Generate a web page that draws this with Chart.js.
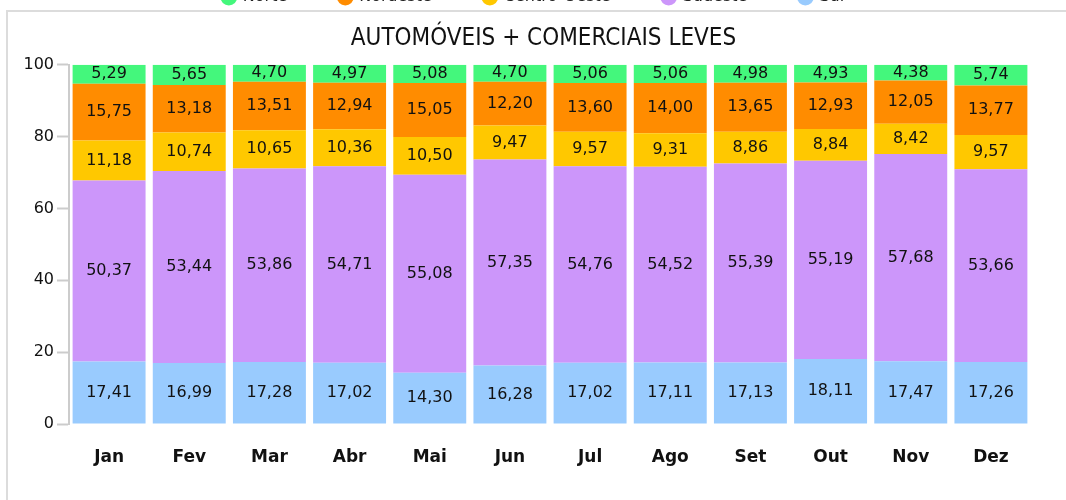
<!DOCTYPE html>
<html>
<head>
<meta charset="utf-8">
<script src="https://cdn.jsdelivr.net/npm/chart.js@4"></script>
<style>
  html, body { margin: 0; padding: 0; overflow: hidden; background: #fff; }
  #wrap { position: absolute; left: 0; top: -63px; width: 1066px; height: 563px; }
</style>
</head>
<body>
<div id="wrap"><canvas id="grafico"></canvas></div>
<script>
// ================= DATI =================

const meses = ["Jan", "Fev", "Mar", "Abr", "Mai", "Jun", "Jul", "Ago", "Set", "Out", "Nov", "Dez"];

const sul = [17.41, 16.99, 17.28, 17.02, 14.30, 16.28, 17.02, 17.11, 17.13, 18.11, 17.47, 17.26];
const sudeste = [50.37, 53.44, 53.86, 54.71, 55.08, 57.35, 54.76, 54.52, 55.39, 55.19, 57.68, 53.66];
const centroOeste = [11.18, 10.74, 10.65, 10.36, 10.50, 9.47, 9.57, 9.31, 8.86, 8.84, 8.42, 9.57];
const nordeste = [15.75, 13.18, 13.51, 12.94, 15.05, 12.20, 13.60, 14.00, 13.65, 12.93, 12.05, 13.77];
const norte = [5.29, 5.65, 4.70, 4.97, 5.08, 4.70, 5.06, 5.06, 4.98, 4.93, 4.38, 5.74];

const ticksY = [0, 20, 40, 60, 80, 100];

// ================= PLUGIN =================

// legenda più bassa (il padding orizzontale resta largo)
const legendaCompatta = {
    id: "legendaCompatta",
    beforeInit(chart) {
        const fit = chart.legend.fit;
        chart.legend.fit = function () {
            fit.bind(chart.legend)();
            this.height = 83;
        };
    },
    afterLayout(chart) {
        // titolo e legenda un po' più a destra
        chart.titleBlock.left += 56;
        chart.legend.left += 18;
        chart.legend.right += 18;
    }
};

// riquadro grigio attorno al grafico
const riquadro = {
    id: "riquadro",
    beforeDraw(chart) {
        const ctx = chart.ctx;
        ctx.save();
        ctx.strokeStyle = "#dcdcdc";
        ctx.lineWidth = 2;
        ctx.strokeRect(7, 74, 1200, 700);
        ctx.restore();
    }
};

// valori dentro ogni segmento
const etichette = {
    id: "etichette",
    afterDatasetsDraw(chart) {
        const ctx = chart.ctx;
        ctx.save();
        ctx.font = "16px 'DejaVu Sans'";
        ctx.fillStyle = "#111";
        ctx.textAlign = "center";
        ctx.textBaseline = "middle";
        chart.data.datasets.forEach((ds, i) => {
            chart.getDatasetMeta(i).data.forEach((bar, j) => {
                const y = (bar.y + bar.base) / 2;
                ctx.fillText(ds.data[j].toFixed(2).replace(".", ","), bar.x, y);
            });
        });
        ctx.restore();
    }
};

// ================= GRAFICO =================

const ctx = document.getElementById("grafico").getContext("2d");

new Chart(ctx, {

    type: "bar",

    data: {

        labels: meses,

        datasets: [
            { label: "Sul", data: sul, backgroundColor: "#99cbfe" },
            { label: "Sudeste", data: sudeste, backgroundColor: "#cc96fa" },
            { label: "Centro-Oeste", data: centroOeste, backgroundColor: "#ffc800" },
            { label: "Nordeste", data: nordeste, backgroundColor: "#ff8c00" },
            { label: "Norte", data: norte, backgroundColor: "#44f77c" }
        ]

    },

    options: {

        responsive: true,
        maintainAspectRatio: false,
        animation: false,

        datasets: {
            bar: {
                categoryPercentage: 1,
                barPercentage: 0.91,
                borderWidth: 0
            }
        },

        layout: {
            padding: { left: 0, right: 35, top: 0, bottom: 0 }
        },

        plugins: {

            legend: {
                display: true,
                position: "top",
                weight: 3000,
                reverse: true,
                labels: {
                    usePointStyle: true,
                    pointStyle: "circle",
                    boxWidth: 12,
                    boxHeight: 12,
                    padding: 52,
                    color: "#222",
                    font: { family: "'DejaVu Sans'", size: 16 }
                }
            },

            title: {
                display: true,
                text: "AUTOMÓVEIS + COMERCIAIS LEVES",
                color: "#111",
                font: { family: "'DejaVu Sans Condensed', 'Liberation Sans Narrow', 'DejaVu Sans'", size: 24, weight: "normal" },
                padding: { top: 4, bottom: 12 }
            },

            tooltip: { enabled: false }

        },

        scales: {

            x: {
                stacked: true,
                grid: { display: false },
                border: { display: false },
                ticks: {
                    color: "#111",
                    padding: 15,
                    font: { family: "'DejaVu Sans'", size: 17, weight: "bold" }
                },
                afterFit(scale) { scale.height = 76; }
            },

            y: {
                stacked: true,
                min: 0,
                max: 100,
                afterBuildTicks(scale) {
                    scale.ticks = ticksY.map(v => ({ value: v }));
                },
                grid: {
                    drawOnChartArea: false,
                    tickLength: 12,
                    tickWidth: 2,
                    color: "#cccccc"
                },
                border: { display: true, color: "#cccccc", width: 2 },
                ticks: {
                    color: "#111",
                    padding: 3,
                    font: { family: "'DejaVu Sans'", size: 16 }
                },
                afterFit(scale) { scale.width = 69; }
            }

        }

    },

    plugins: [legendaCompatta, riquadro, etichette]

});
</script>
</body>
</html>
